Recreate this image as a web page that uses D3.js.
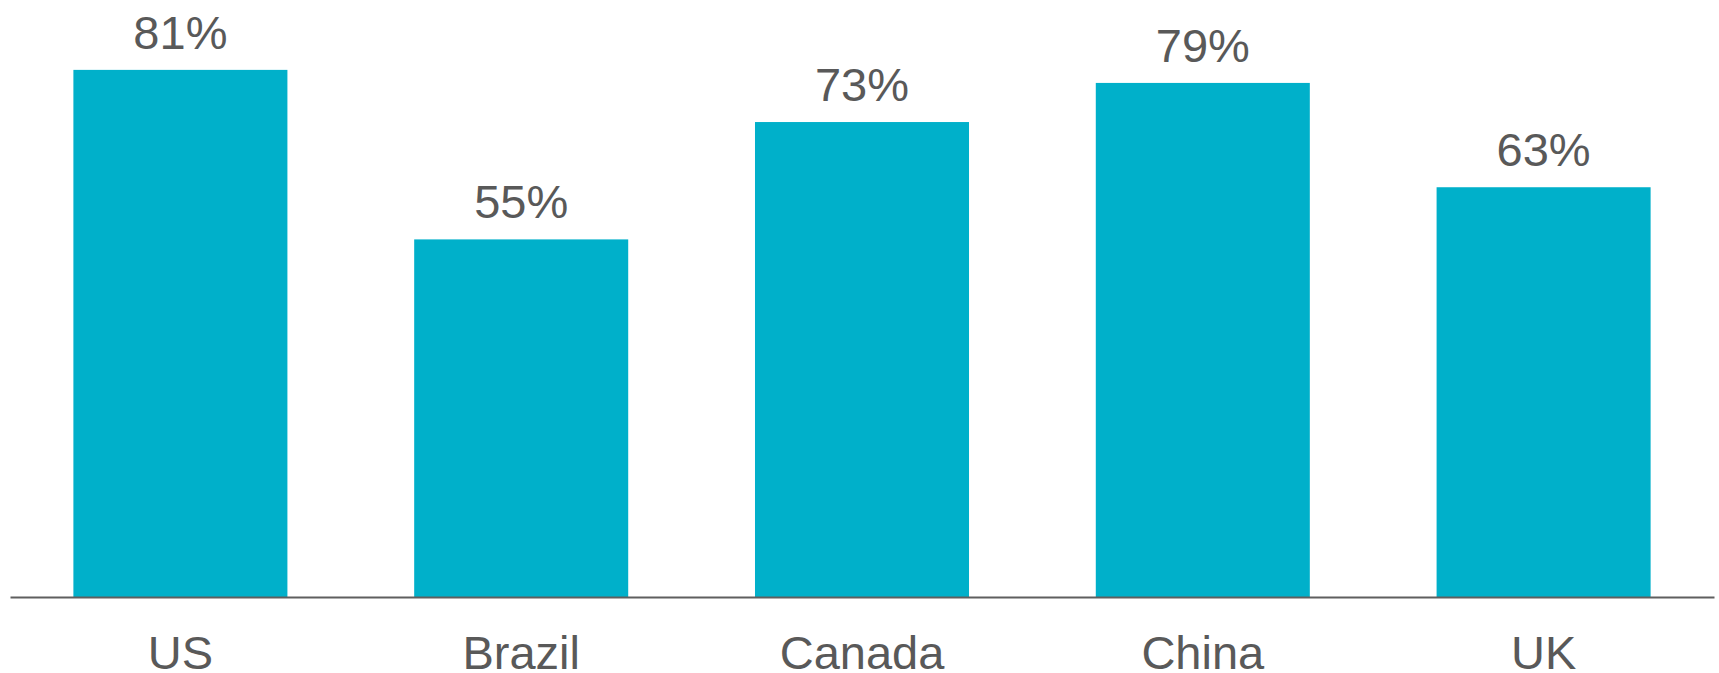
<!DOCTYPE html>
<html>
<head>
<meta charset="utf-8">
<script src="https://cdn.jsdelivr.net/npm/d3@7"></script>
<style>
  html, body { margin: 0; padding: 0; background: #ffffff; }
  svg { display: block; }
</style>
</head>
<body>
<script>
// Share of respondents by country (percent)
const categories = ["US", "Brazil", "Canada", "China", "UK"];
const values = [81, 55, 73, 79, 63];

const width = 1719, height = 673;
const barBase = 598;   // zero line of the value scale
const axisY = 597;     // category axis line

const svg = d3.select("body").append("svg")
  .attr("width", width)
  .attr("height", height);

const x = d3.scaleBand()
  .domain(categories)
  .range([10, 1714])
  .paddingInner(0.372)
  .paddingOuter(0.186);

const y = d3.scaleLinear()
  .domain([0, 100])
  .range([barBase, barBase - 652]);

// bars
svg.append("g")
  .selectAll("rect")
  .data(categories)
  .join("rect")
  .attr("x", d => x(d))
  .attr("width", x.bandwidth())
  .attr("y", (d, i) => y(values[i]))
  .attr("height", (d, i) => y(0) - y(values[i]))
  .attr("fill", "#00b0ca");

// value labels above bars
svg.append("g")
  .selectAll("text")
  .data(categories)
  .join("text")
  .attr("x", d => x(d) + x.bandwidth() / 2)
  .attr("y", (d, i) => y(values[i]) - 21)
  .attr("text-anchor", "middle")
  .attr("font-family", "'Liberation Sans', Arial, sans-serif")
  .attr("font-size", 47)
  .attr("fill", "#595959")
  .text((d, i) => values[i] + "%");

// category axis
const xAxis = d3.axisBottom(x).tickSize(0).tickPadding(0);
const axisG = svg.append("g")
  .attr("transform", `translate(0,${axisY})`)
  .call(xAxis);

axisG.select(".domain")
  .attr("stroke", "#5f5f5f")
  .attr("stroke-width", 2);

axisG.selectAll(".tick text")
  .attr("font-family", "'Liberation Sans', Arial, sans-serif")
  .attr("font-size", 47)
  .attr("fill", "#595959")
  .attr("dy", null)
  .attr("y", 72);
</script>
</body>
</html>
